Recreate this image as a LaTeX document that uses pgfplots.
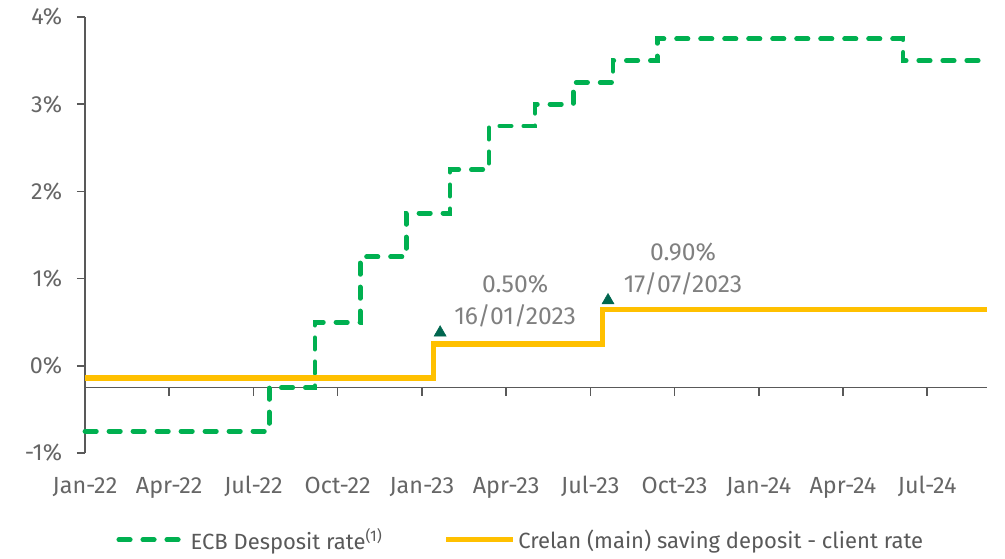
\documentclass[border=0pt]{standalone}
\usepackage{fontspec}
\setmainfont{Fira Sans}
\usepackage{pgfplots}
\pgfplotsset{compat=1.18}
\definecolor{ecbgreen}{HTML}{00B050}
\definecolor{crelanyellow}{HTML}{FFC000}
\definecolor{axisgray}{HTML}{595959}
\definecolor{labelgray}{HTML}{666666}
\definecolor{notegray}{HTML}{808080}
\definecolor{markgreen}{HTML}{00664F}

\begin{document}
\begin{tikzpicture}
% page = 1005 x 558 px at 0.75pt per px; axis box lower left at origin
\useasboundingbox (-63.75pt,-78.75pt) rectangle (690pt,339.75pt);
\begin{axis}[
  at={(0pt,0pt)}, anchor=south west,
  scale only axis, width=676.5pt, height=327pt,
  xmin=0, xmax=32.13, ymin=-1, ymax=4,
  clip=false,
  axis y line*=left, axis x line*=bottom,
  x axis line style={draw=none},
  y axis line style={axisgray, line width=1.2pt, -},
  xtick={0,3,...,30},
  xticklabels={Jan-22,Apr-22,Jul-22,Oct-22,Jan-23,Apr-23,Jul-23,Oct-23,Jan-24,Apr-24,Jul-24},
  xtick style={draw=none},
  ytick={-1,0,1,2,3,4},
  yticklabels={-1\%,0\%,1\%,2\%,3\%,4\%},
  ytick style={axisgray, line width=1.2pt},
  tick align=outside, major tick length=6pt,
  tick label style={font=\fontsize{17.5}{20}\selectfont, text=labelgray},
  xticklabel style={anchor=base, yshift=-24pt},
  yticklabel style={anchor=east, inner sep=0pt, xshift=-11pt},
  legend style={at={(0.4835,-0.199)}, anchor=center, legend columns=2, draw=none,
    font=\fontsize{16.5}{19}\selectfont, text=axisgray,
    /tikz/every even column/.append style={column sep=44pt}},
  legend image code/.code={\draw[#1] (0pt,0pt) -- (50pt,0pt);},
]
% horizontal category axis, crossing at -0.25
\draw[axisgray, line width=1.2pt] (axis cs:0,-0.25) -- (axis cs:32.13,-0.25);
\pgfplotsinvokeforeach{3,6,...,30}{
  \draw[axisgray, line width=1.2pt] (axis cs:#1,-0.25) -- ++(0pt,-6pt);
}
\addplot[ecbgreen, line width=3.6pt, line cap=round, dash pattern=on 8.5pt off 9.5pt, const plot mark left] coordinates
  {(0,-0.75)(6.56,-0.25)(8.19,0.5)(9.80,1.25)(11.44,1.75)(13.00,2.25)(14.39,2.75)(16.03,3.0)(17.39,3.25)(18.81,3.5)(20.38,3.75)(29.14,3.5)(32.17,3.5)};
\addlegendentry{ECB Desposit rate\textsuperscript{(1)}}
\addplot[crelanyellow, line width=3.8pt, const plot mark left] coordinates
  {(0,-0.14)(12.40,0.25)(18.45,0.65)(32.13,0.65)};
\addlegendentry{Crelan (main) saving deposit - client rate}
% change markers
\addplot[only marks, mark=triangle*, mark size=5.2pt, color=markgreen, forget plot] coordinates
  {(12.65,0.38)(18.63,0.75)};
\node[align=center, text=notegray, font=\fontsize{18.5}{24}\selectfont] at (axis cs:15.32,0.745) {0.50\%\\16/01/2023};
\node[align=center, text=notegray, font=\fontsize{18.5}{24}\selectfont] at (axis cs:21.3,1.11) {0.90\%\\17/07/2023};
\end{axis}
\end{tikzpicture}
\end{document}
